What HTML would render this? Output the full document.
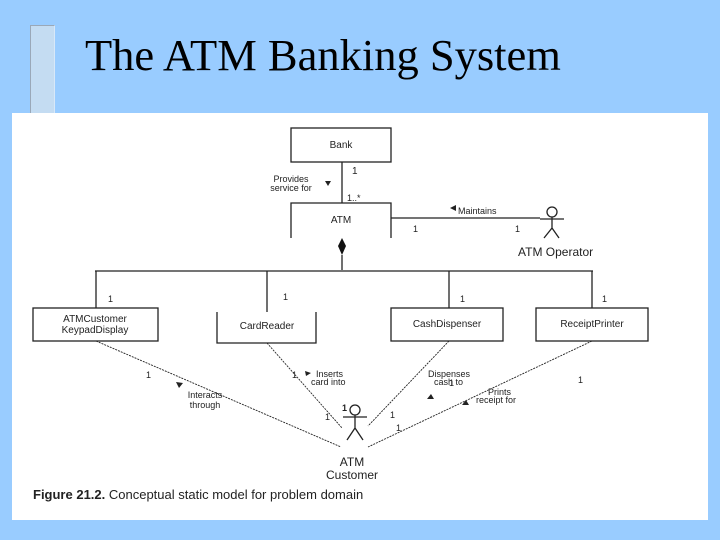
<!DOCTYPE html>
<html><head><style>
body{margin:0;width:720px;height:540px;background:#99ccff;position:relative;overflow:hidden;font-family:"Liberation Sans",sans-serif}
</style></head><body>
<div style="position:absolute;left:30px;top:25px;width:23px;height:88px;background:#c4dcf2;border:1px solid #9aa8b8;border-right-color:#d8e8f8"></div>
<div style="position:absolute;left:85px;top:29px;font-family:'Liberation Serif',serif;font-size:44.5px;color:#000">The ATM Banking System</div>
<div style="position:absolute;left:12px;top:113px;width:696px;height:407px;background:#fff"></div>
<svg width="720" height="540" style="position:absolute;left:0;top:0" font-family="Liberation Sans, sans-serif" fill="#222">
<g stroke="#222" fill="none" stroke-width="1.3">
<rect x="291" y="128" width="100" height="34"/>
<line x1="342" y1="162" x2="342" y2="203"/>
<path d="M291 238V203H391V238"/>
<line x1="391" y1="218" x2="540" y2="218"/>
<line x1="342" y1="255" x2="342" y2="270"/>
<line x1="95" y1="271" x2="593" y2="271"/>
<line x1="96" y1="271" x2="96" y2="308"/>
<line x1="267" y1="271" x2="267" y2="312"/>
<line x1="449" y1="271" x2="449" y2="308"/>
<line x1="592" y1="271" x2="592" y2="308"/>
<rect x="33" y="308" width="125" height="33"/>
<path d="M217 312V343H316V312"/>
<rect x="391" y="308" width="112" height="33"/>
<rect x="536" y="308" width="112" height="33"/>
<g stroke-width="0.9" stroke-dasharray="2,1">
<line x1="96" y1="341" x2="341" y2="447"/>
<line x1="267" y1="343" x2="342" y2="428"/>
<line x1="449" y1="341" x2="368" y2="426"/>
<line x1="592" y1="341" x2="368" y2="447"/>
</g>
<circle cx="552" cy="212" r="5"/><path d="M540 219H564M552 217V228L544 238M552 228L559 238"/>
<circle cx="355" cy="410" r="5"/><path d="M343 417H367M355 415V428L347 440M355 428L363 440"/>
</g>
<path d="M342 238L346 246L342 255L338 246Z" fill="#111"/>
<g font-size="10">
<text x="341" y="148" text-anchor="middle">Bank</text>
<text x="341" y="223" text-anchor="middle">ATM</text>
<text x="352" y="174">1</text>
<text x="347" y="201" font-size="9">1..*</text>
<text x="291" y="182" text-anchor="middle" font-size="9">Provides</text>
<text x="291" y="191" text-anchor="middle" font-size="9">service for</text>
<path d="M325 181h6l-3 5z"/>
<path d="M450 208l6-3v6z"/><text x="458" y="214" font-size="9">Maintains</text>
<text x="413" y="232" font-size="9">1</text><text x="515" y="232" font-size="9">1</text>
<text x="518" y="256" font-size="12">ATM Operator</text>
<text x="108" y="302" font-size="9">1</text><text x="283" y="300" font-size="9">1</text><text x="460" y="302" font-size="9">1</text><text x="602" y="302" font-size="9">1</text>
<text x="95" y="322" text-anchor="middle">ATMCustomer</text>
<text x="95" y="333" text-anchor="middle">KeypadDisplay</text>
<text x="267" y="329" text-anchor="middle">CardReader</text>
<text x="447" y="327" text-anchor="middle">CashDispenser</text>
<text x="592" y="327" text-anchor="middle">ReceiptPrinter</text>
<g font-size="9">
<text x="146" y="378">1</text><text x="292" y="378">1</text><text x="449" y="386">1</text><text x="578" y="383">1</text>
<text x="205" y="398" text-anchor="middle">Interacts</text><text x="205" y="408" text-anchor="middle">through</text>
<path d="M176 382l7 1-4 5z"/>
<text x="316" y="377">Inserts</text><text x="311" y="385">card into</text><path d="M305 371l6 2-5 3z"/>
<text x="428" y="377">Dispenses</text><text x="434" y="385">cash to</text>
<path d="M427 399l4-5 3 5z"/>
<text x="488" y="395">Prints</text><text x="476" y="403">receipt for</text><path d="M462 405l4-5 3 5z"/>
<text x="325" y="420">1</text><text x="390" y="418">1</text><text x="396" y="431">1</text>
</g>
<text x="342" y="411" font-weight="bold" font-size="9">1</text>
<text x="352" y="466" text-anchor="middle" font-size="12">ATM</text>
<text x="352" y="479" text-anchor="middle" font-size="12">Customer</text>
<text x="33" y="499" font-size="13"><tspan font-weight="bold">Figure 21.2.</tspan> Conceptual static model for problem domain</text>
</g>
</svg>
</body></html>
